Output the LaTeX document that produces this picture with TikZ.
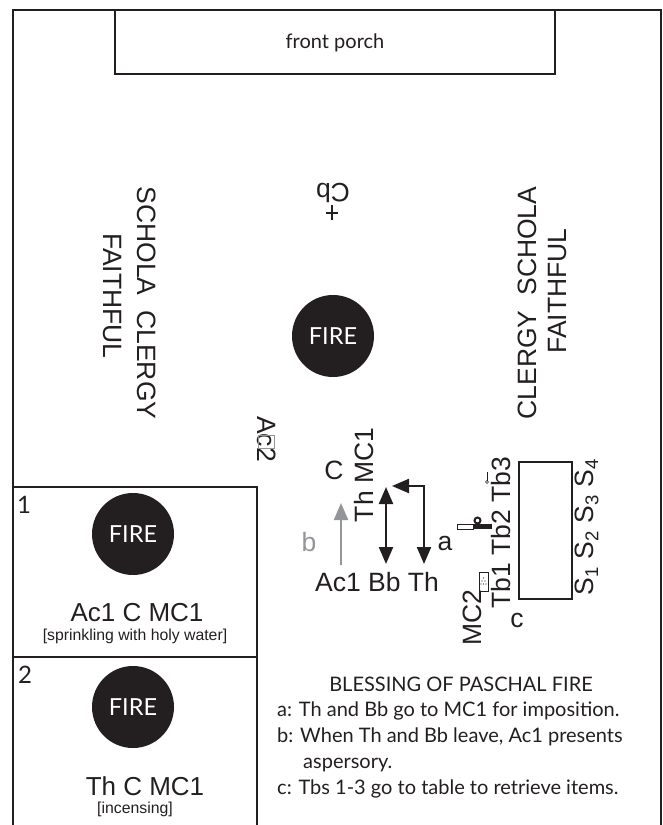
\documentclass[tikz,border=0pt]{standalone}
\usepackage{fontspec}
\setmainfont{Lato}
\newfontfamily\armfont{Liberation Sans}
\usetikzlibrary{arrows.meta,positioning}
\definecolor{inkC}{RGB}{35,31,32}
\definecolor{greyC}{RGB}{147,149,152}
\tikzset{
    every node/.append style={align=center,text=inkC,inner sep=0pt},
    wall/.style={draw=inkC,line width=2.5pt},
    fire/.style={circle,fill=inkC,text=white,minimum size=82pt,font=\fontsize{23.5}{25}\selectfont},
    lbl/.style={font=\armfont\fontsize{26.5}{28}\selectfont},
    small/.style={font=\armfont\fontsize{15.8}{17}\selectfont},
    scene/.style={font=\armfont\fontsize{26}{28}\selectfont},
    num/.style={font=\fontsize{24}{26}\selectfont},
    gill/.style={font=\fontsize{20}{26}\selectfont},
    arr/.style={{Triangle[length=17pt,width=14pt]}-{Triangle[length=17pt,width=14pt]},draw=inkC,line width=2.2pt},
    garr/.style={-{Triangle[length=17pt,width=14pt]},draw=greyC,line width=2.2pt}
}
\begin{document}
\begin{tikzpicture}[x=1pt,y=-1pt]
    \useasboundingbox (0,0) rectangle (663,825);
    % the yard and the porch
    \draw[wall] (13,825) -- (13,10) -- (661,10) -- (661,825);
    \draw[wall] (115,10) rectangle (555,74);
    \node[gill] (porch) at (335,43) {front porch};
    % large plan
    \node[fire] (fire0) at (333,336) {FIRE};
    \node[lbl,rotate=180] (cb) at (333,193) {Cb};
    \draw[inkC,line width=1.4pt] (332,205) -- (332,220) (326,213) -- (338,213);
    \node[lbl,rotate=-90] (sc1) at (147,303) {SCHOLA\ \ CLERGY};
    \node[lbl,rotate=-90] (fa1) at (112,296) {FAITHFUL};
    \node[lbl,rotate=90]  (sc2) at (527,303) {CLERGY\ \ SCHOLA};
    \node[lbl,rotate=90]  (fa2) at (558,291) {FAITHFUL};
    \node[lbl,rotate=-90] (ac2) at (267,439) {Ac2};
    \draw[greyC,line width=0.8pt] (258,435) rectangle (274,448);
    % positions before the fire
    \node[lbl] (c) at (334,470) {C};
    \node[lbl,rotate=90] (thmc) at (364,475) {Th MC1};
    \node[lbl] (row) at (377,582) {Ac1 Bb Th};
    \node[lbl,text=greyC] (b) at (309,542) {b};
    \node[lbl] (a) at (445,543) {a};
    \node[lbl] (cc) at (517,620) {c};
    \coordinate (bstart) at (341,565);
    \coordinate (bend) at (341,503);
    \coordinate (btop) at (386,487);
    \coordinate (bbot) at (386,564);
    \coordinate (tbot) at (424,564);
    \coordinate (ttop) at (392,486);
    \draw[garr] (bstart) -- (bend);
    \draw[arr] (btop) -- (bbot);
    \draw[arr] (ttop) -| (tbot);
    % table and servers
    \draw[wall] (519,462) rectangle (572,599);
    \node[lbl,rotate=90] (seats) at (587,527) {S\textsubscript{1} S\textsubscript{2} S\textsubscript{3} S\textsubscript{4}};
    \node[lbl,rotate=90] (tbs) at (501,533) {Tb1 Tb2 Tb3};
    \node[lbl,rotate=90] (mc2) at (472,618) {MC2};
    % items on the table
    \draw[inkC,line width=0.8pt] (479,572) rectangle (488,591);
    \fill[inkC] (481,584) circle (0.7) (483.5,584) circle (0.7) (486,584) circle (0.7) (482,581) circle (0.7) (485,581) circle (0.7) (483.5,578) circle (0.7);
    \draw[inkC,line width=0.8pt] (457,524) rectangle (473,529);
    \fill[inkC] (473,524) rectangle (492,529);
    \draw[inkC,line width=2pt] (477.5,520.5) circle (3);
    \draw[inkC,line width=0.6pt] (487,472) -- (487,481);
    \draw[inkC,line width=0.6pt] (487,482) circle (1.5);
    % scene 1
    \draw[wall] (13,487) -- (257,487) -- (257,825);
    \draw[wall] (13,657) -- (257,657);
    \node[num] (n1) at (24,505) {1};
    \node[fire] (fire1) at (133,534) {FIRE};
    \node[scene] (t1) at (137,613) {Ac1 C MC1};
    \node[small] (s1) at (135,636) {[sprinkling with holy water]};
    % scene 2
    \node[num] (n2) at (25,675) {2};
    \node[fire] (fire2) at (133,707) {FIRE};
    \node[scene] (t2) at (145,786) {Th C MC1};
    \node[small] (s2) at (135,809) {[incensing]};
    % legend
    \node[gill] (title) at (461,684) {BLESSING OF PASCHAL FIRE};
    \node[gill,anchor=north west,align=left] (legend) at (277,702) {a: Th and Bb go to MC1 for imposition.\\b: When Th and Bb leave, Ac1 presents\\\hspace*{1.3em}aspersory.\\c: Tbs 1-3 go to table to retrieve items.};
\end{tikzpicture}
\end{document}
